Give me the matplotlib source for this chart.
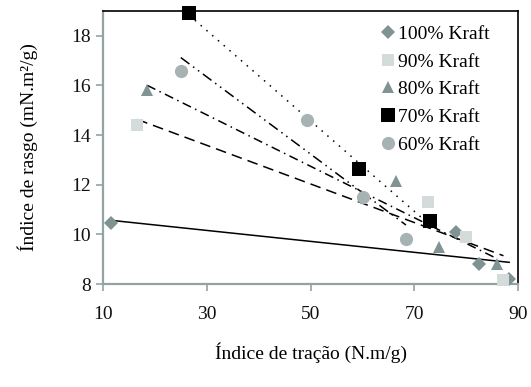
import numpy as np
import matplotlib
matplotlib.use("Agg")
import matplotlib.pyplot as plt

plt.rcParams['font.family'] = ['Liberation Serif', 'DejaVu Serif']

# data
labels = ["100% Kraft", "90% Kraft", "80% Kraft", "70% Kraft", "60% Kraft"]
x100 = [11.5, 78.0, 82.5, 88.3]
y100 = [10.45, 10.1, 8.8, 8.2]
x90 = [16.6, 72.7, 79.9, 87.2]
y90 = [14.4, 11.3, 9.9, 8.15]
x80 = [18.5, 66.5, 74.7, 86.0]
y80 = [15.8, 12.15, 9.5, 8.8]
x70 = [26.6, 59.3, 73.0]
y70 = [18.9, 12.65, 10.55]
x60 = [25.0, 49.3, 60.2, 68.4]
y60 = [16.6, 14.6, 11.5, 9.8]

series = [(x100, y100), (x90, y90), (x80, y80), (x70, y70), (x60, y60)]
markers = ['D', 's', '^', 's', 'o']
colors = ['#7f9393', '#d3dbdb', '#809494', '#000000', '#a7b2b2']
sizes = [7, 9, 9, 10, 9.5]
dashes = [None, (7, 4), (6, 3, 1, 3), (1, 4), (7, 3, 1, 3, 1, 3)]

fig = plt.figure(figsize=(5.31, 3.87), dpi=100)
ax = fig.add_axes([0.194, 0.266, 0.7815, 0.7056])

# trendlines (linear fit, drawn under the markers)
for (xs, ys), d in zip(series, dashes):
    k, b = np.polyfit(xs, ys, 1)
    xx = np.array([min(xs), max(xs)])
    line, = ax.plot(xx, k * xx + b, color='black', lw=1.1, zorder=2)
    if d is not None:
        line.set_dashes(d)

for (xs, ys), lab, m, c, s in zip(series, labels, markers, colors, sizes):
    ax.plot(xs, ys, linestyle='none', marker=m, color=c, markersize=s,
            markeredgewidth=0, label=lab, zorder=3, clip_on=False)

ax.set_xlim(10, 90)
ax.set_ylim(8, 19)
ax.set_xticks([10, 30, 50, 70, 90])
ax.set_yticks([8, 10, 12, 14, 16, 18])

axis_gray = '#93a3a3'
ax.spines['left'].set_color(axis_gray)
ax.spines['bottom'].set_color(axis_gray)
ax.spines['left'].set_linewidth(1.6)
ax.spines['bottom'].set_linewidth(1.6)
ax.spines['top'].set_linewidth(1.2)
ax.spines['right'].set_linewidth(1.2)
ax.tick_params(axis='both', color=axis_gray, width=1.2, length=5,
               labelsize=14, labelcolor='#111111')
ax.tick_params(axis='x', pad=11)

ax.set_xlabel("Índice de tração (N.m/g)", fontsize=14, labelpad=14)
ax.set_ylabel("Índice de rasgo (mN.m²/g)", fontsize=14, labelpad=24)

ax.legend(loc='upper right', frameon=False, fontsize=14, handletextpad=0.05,
          labelspacing=0.52, borderaxespad=0.4, handlelength=1.0,
          bbox_to_anchor=(0.97, 1.005))

fig.savefig("out.png", dpi=100)
